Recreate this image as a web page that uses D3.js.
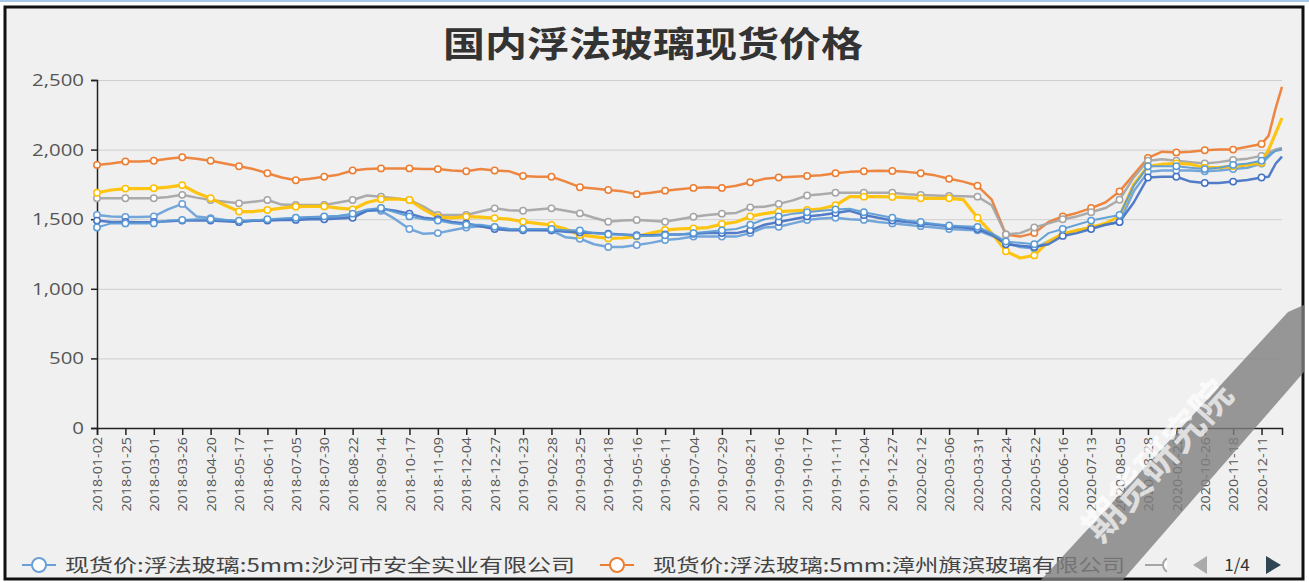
<!DOCTYPE html>
<html>
<head>
<meta charset="utf-8">
<script src="https://cdn.jsdelivr.net/npm/d3@7"></script>
<style>
  body { margin: 0; background: #fff; }
  text { font-family: "Noto Sans CJK SC", "Microsoft YaHei", sans-serif; }
</style>
</head>
<body>
<div id="chart"></div>
<script>
// tick labels on the category axis (one every 17 trading days)
var dateLabels = ["2018-01-02","2018-01-25","2018-03-01","2018-03-26","2018-04-20","2018-05-17","2018-06-11",
  "2018-07-05","2018-07-30","2018-08-22","2018-09-14","2018-10-17","2018-11-09","2018-12-04","2018-12-27",
  "2019-01-23","2019-02-28","2019-03-25","2019-04-18","2019-05-16","2019-06-11","2019-07-04","2019-07-29",
  "2019-08-21","2019-09-16","2019-10-17","2019-11-11","2019-12-04","2019-12-27","2020-02-12","2020-03-06",
  "2020-03-31","2020-04-24","2020-05-22","2020-06-16","2020-07-13","2020-08-05","2020-08-28","2020-09-22",
  "2020-10-26","2020-11-18","2020-12-11"]

// sample positions, counted in tick-label steps
var samplePos = [0,0.5,1,1.5,2,2.5,3,3.5,4,4.5,5,5.5,6,6.5,7,7.5,8,8.5,9,9.5,10,10.5,11,11.5,12,12.5,13,13.5,
  14,14.5,15,15.5,16,16.5,17,17.5,18,18.5,19,19.5,20,20.5,21,21.5,22,22.5,23,23.5,24,24.5,25,25.5,26,26.5,
  27,27.5,28,28.5,29,29.5,30,30.5,31,31.5,32,32.5,33,33.5,34,34.5,35,35.5,36,36.5,37,37.5,38,38.5,39,39.5,
  40,40.5,41,41.25,41.5,41.72]

var shaheAnquan = [1530,1520,1516,1516,1520,1570,1610,1520,1508,1495,
  1482,1490,1494,1500,1508,1512,1516,1520,1525,1560,
  1560,1500,1430,1395,1400,1420,1440,1450,1440,1430,
  1425,1425,1420,1370,1360,1320,1300,1300,1315,1330,
  1350,1360,1375,1375,1375,1375,1400,1440,1446,1470,
  1494,1505,1510,1500,1495,1480,1470,1460,1450,1440,
  1430,1425,1420,1380,1330,1300,1290,1340,1390,1420,
  1440,1460,1480,1700,1840,1850,1850,1850,1845,1850,
  1860,1870,1900,1950,2000,2010]

var zhangzhouQibin = [1890,1900,1915,1915,1920,1935,1945,1935,1920,1900,
  1880,1860,1830,1800,1780,1790,1805,1820,1850,1860,
  1865,1865,1865,1860,1860,1850,1845,1860,1850,1845,
  1810,1805,1805,1770,1730,1720,1710,1700,1680,1690,
  1705,1715,1725,1730,1725,1740,1765,1790,1800,1805,
  1810,1815,1830,1840,1845,1848,1846,1840,1830,1815,
  1790,1770,1740,1640,1390,1375,1400,1480,1520,1545,
  1580,1620,1700,1820,1940,1985,1980,1985,1995,2000,
  2000,2020,2040,2100,2300,2450]

var series3 = [1650,1650,1650,1650,1650,1660,1675,1655,1638,1625,
  1614,1625,1638,1605,1602,1602,1602,1620,1638,1670,
  1662,1650,1638,1590,1530,1530,1530,1555,1578,1565,
  1561,1570,1578,1560,1542,1510,1482,1490,1494,1488,
  1482,1500,1518,1530,1540,1545,1585,1590,1610,1635,
  1670,1680,1690,1690,1690,1690,1690,1680,1674,1670,
  1667,1665,1662,1600,1390,1400,1440,1470,1500,1520,
  1550,1580,1640,1800,1920,1930,1920,1910,1900,1910,
  1925,1935,1955,1980,2000,2010]

var series4 = [1690,1710,1720,1720,1722,1730,1745,1690,1650,1600,
  1555,1555,1566,1580,1590,1592,1592,1580,1570,1620,
  1643,1645,1638,1570,1515,1510,1518,1515,1508,1500,
  1482,1470,1458,1430,1387,1375,1362,1365,1375,1400,
  1422,1430,1434,1440,1465,1480,1520,1540,1554,1560,
  1566,1575,1600,1662,1662,1662,1660,1655,1650,1650,
  1650,1640,1510,1400,1270,1221,1240,1340,1395,1420,
  1440,1470,1520,1750,1880,1895,1900,1895,1870,1870,
  1880,1890,1905,2000,2120,2227]

var series5 = [1490,1480,1480,1478,1480,1485,1490,1490,1490,1485,
  1480,1488,1490,1495,1495,1500,1500,1505,1510,1560,
  1575,1560,1540,1510,1500,1480,1470,1450,1430,1420,
  1420,1420,1420,1410,1405,1400,1395,1390,1385,1385,
  1390,1390,1395,1400,1400,1400,1420,1460,1480,1500,
  1520,1530,1545,1560,1530,1510,1490,1480,1470,1460,
  1450,1440,1430,1390,1320,1310,1300,1320,1380,1400,
  1430,1460,1480,1620,1800,1805,1805,1770,1760,1760,
  1770,1782,1800,1805,1900,1950]

var series6 = [1440,1470,1470,1470,1470,1490,1495,1500,1500,1495,
  1490,1490,1500,1505,1510,1515,1520,1525,1540,1570,
  1580,1550,1520,1500,1490,1470,1460,1460,1445,1430,
  1430,1430,1430,1420,1420,1400,1390,1390,1380,1380,
  1385,1390,1400,1410,1420,1430,1460,1500,1520,1540,
  1550,1560,1570,1575,1550,1530,1510,1490,1480,1465,
  1455,1450,1445,1400,1340,1330,1320,1400,1430,1460,
  1490,1510,1530,1740,1880,1880,1880,1870,1860,1870,
  1890,1900,1920,1960,1990,2000]

var seriesNames = ["现货价:浮法玻璃:5mm:沙河市安全实业有限公司", "现货价:浮法玻璃:5mm:漳州旗滨玻璃有限公司", "series3", "series4", "series5", "series6"]
var seriesValues = [shaheAnquan, zhangzhouQibin, series3, series4, series5, series6]
var colors = ["#6a9fd8", "#ed7d31", "#a5a5a5", "#ffc000", "#4472c4", "#5b9bd5"]
var widths = [2.5, 2.5, 2.5, 3.2, 2.5, 2]

var yTicks = [0, 500, 1000, 1500, 2000, 2500]

var width = 1309,
    height = 583

var plotLeft = 97, plotRight = 1282, plotTop = 80, plotBottom = 428
var numFont = "'Open Sans', 'Noto Sans', sans-serif"

var svg = d3.select("#chart").append("svg")
  .attr("width", width)
  .attr("height", height)

// page decoration
svg.append("rect").attr("x", 0).attr("y", 0).attr("width", width).attr("height", 2).attr("fill", "#a9c8e8")
svg.append("rect").attr("x", 5).attr("y", 7).attr("width", 1298).attr("height", 572)
  .attr("fill", "#f0f0f0").attr("stroke", "#111").attr("stroke-width", 3)

// stretch a text horizontally, like the reference
function stretch(sel, k) {
  sel.each(function() {
    var w = this.getComputedTextLength()
    d3.select(this).attr("textLength", w * k).attr("lengthAdjust", "spacingAndGlyphs")
  })
}

var title = svg.append("text")
  .attr("x", 653).attr("y", 57)
  .attr("text-anchor", "middle")
  .attr("font-size", 35).attr("font-weight", "bold").attr("fill", "#333")
  .text("国内浮法玻璃现货价格")
stretch(title, 1.2)

var x = d3.scaleLinear().domain([0, d3.max(samplePos)]).range([plotLeft, plotRight])
var y = d3.scaleLinear().domain([0, 2500]).range([plotBottom, plotTop])

// grid lines
svg.append("g")
  .attr("transform", "translate(" + plotLeft + ",0)")
  .call(d3.axisLeft(y).tickValues(yTicks.slice(1)).tickSize(-(plotRight - plotLeft)).tickFormat(""))
  .call(function(g) {
    g.select(".domain").remove()
    g.selectAll("line").attr("stroke", "#cfcfcf")
  })

// y axis
var yAxis = svg.append("g")
  .attr("transform", "translate(" + plotLeft + ",0)")
  .call(d3.axisLeft(y).tickValues(yTicks).tickSize(6).tickPadding(7).tickFormat(d3.format(",")))
  .attr("font-family", numFont)
yAxis.select(".domain").attr("stroke", "#222").attr("stroke-width", 1.5)
yAxis.selectAll("line").attr("stroke", "#222").attr("stroke-width", 1.5)
yAxis.selectAll("text").attr("font-size", 17).attr("fill", "#555")
  .style("font-family", numFont)
stretch(yAxis.selectAll("text"), 1.2)

// x axis
var xAxis = svg.append("g")
  .attr("transform", "translate(0," + plotBottom + ")")
  .call(d3.axisBottom(x).tickValues(d3.range(dateLabels.length)).tickSize(7).tickFormat(function(i) { return dateLabels[i] }))
  .attr("font-family", numFont)
xAxis.select(".domain").attr("stroke", "#222").attr("stroke-width", 1.5)
xAxis.selectAll("line").attr("stroke", "#222").attr("stroke-width", 1.5)
xAxis.selectAll("text")
  .attr("font-size", 13).attr("fill", "#555")
  .style("font-family", numFont)
  .style("text-anchor", "end")
  .attr("x", -9).attr("y", 0).attr("dy", "0.36em")
  .attr("transform", "rotate(-90)")
stretch(xAxis.selectAll("text"), 1.1)

// lines
var line = d3.line()
  .x(function(d) { return x(d[0]) })
  .y(function(d) { return y(d[1]) })

seriesValues.forEach(function(vals, s) {
  var pts = vals.map(function(v, i) { return [samplePos[i], v] })
  svg.append("path")
    .datum(pts)
    .attr("d", line)
    .attr("fill", "none")
    .attr("stroke", colors[s])
    .attr("stroke-width", widths[s])
    .attr("stroke-linejoin", "round")
    .attr("opacity", 0.92)
  svg.append("g").selectAll("circle")
    .data(pts.filter(function(d) { return d[0] % 1 === 0 }))
    .enter().append("circle")
    .attr("cx", function(d) { return x(d[0]) })
    .attr("cy", function(d) { return y(d[1]) })
    .attr("r", 3.2)
    .attr("fill", "#fff")
    .attr("stroke", colors[s])
    .attr("stroke-width", 1.5)
})

// legend (page 1 of 4)
var legendY = 565
var legendItems = [{x: 22, tx: 65, tw: 510}, {x: 600, tx: 653, tw: 472}]
legendItems.forEach(function(item, i) {
  var g = svg.append("g")
  g.append("line").attr("x1", item.x).attr("x2", item.x + 34).attr("y1", legendY).attr("y2", legendY)
    .attr("stroke", colors[i]).attr("stroke-width", 2)
  g.append("circle").attr("cx", item.x + 17).attr("cy", legendY).attr("r", 7)
    .attr("fill", "#fff").attr("stroke", colors[i]).attr("stroke-width", 2)
  g.append("text").attr("x", item.tx).attr("y", legendY + 6.5)
    .attr("font-size", 18).attr("fill", "#444")
    .attr("textLength", item.tw).attr("lengthAdjust", "spacingAndGlyphs")
    .text(seriesNames[i])
})
// third legend item, cut off by the pager
svg.append("clipPath").attr("id", "legclip").append("rect")
  .attr("x", 1140).attr("y", 550).attr("width", 27).attr("height", 30)
var g3 = svg.append("g").attr("clip-path", "url(#legclip)")
g3.append("line").attr("x1", 1145).attr("x2", 1179).attr("y1", legendY).attr("y2", legendY)
  .attr("stroke", colors[2]).attr("stroke-width", 2)
g3.append("circle").attr("cx", 1170).attr("cy", legendY).attr("r", 7)
  .attr("fill", "#fff").attr("stroke", colors[2]).attr("stroke-width", 2)

svg.append("path").attr("d", "M1193,565 L1207,556 L1207,574 Z").attr("fill", "#aaa")
svg.append("text").attr("x", 1237).attr("y", 571).attr("text-anchor", "middle")
  .attr("font-size", 17).attr("fill", "#333").text("1/4")
svg.append("path").attr("d", "M1266,556 L1281,565 L1266,574 Z").attr("fill", "#2f4554")

// watermark band
svg.append("path")
  .attr("d", "M1040,581 L1288,312 L1304,305 L1304,372 L1122,581 Z")
  .attr("fill", "#7f7f7f").attr("opacity", 0.8)
svg.append("text")
  .attr("transform", "translate(1168,470) rotate(-48)")
  .attr("text-anchor", "middle")
  .attr("font-size", 40).attr("font-weight", "bold")
  .attr("fill", "#fff").attr("opacity", 0.7)
  .text("期货研究院")
</script>
</body>
</html>
